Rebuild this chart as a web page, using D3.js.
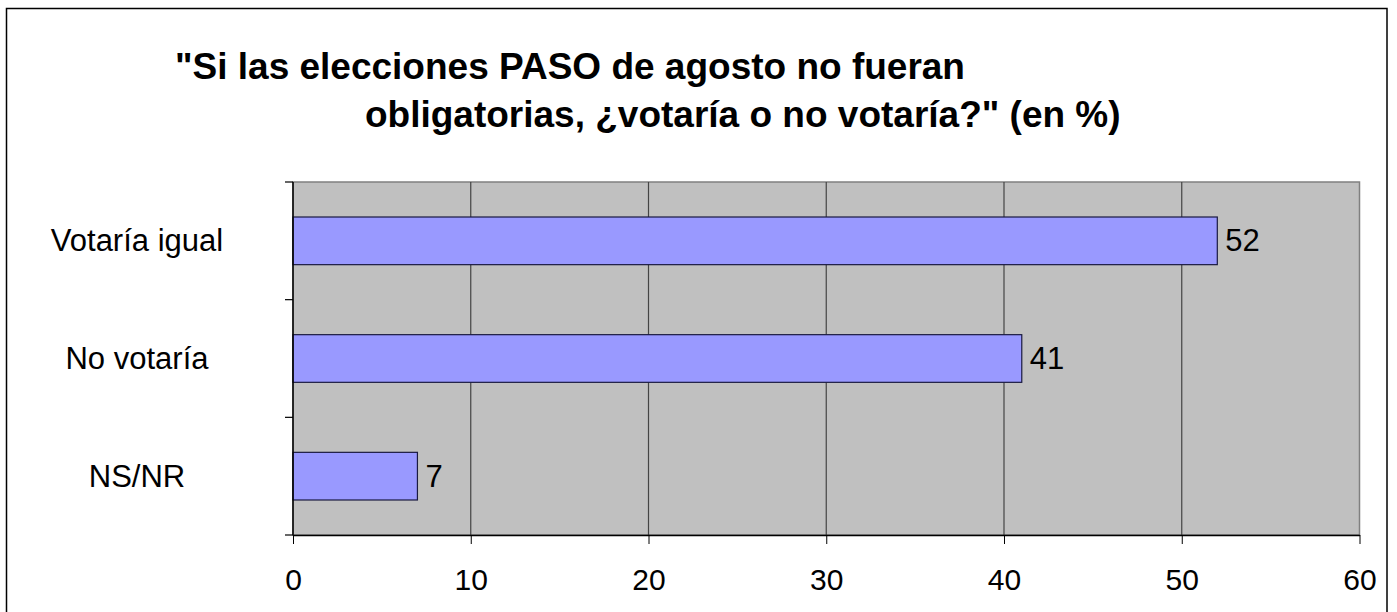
<!DOCTYPE html>
<html lang="es">
<head>
<meta charset="UTF-8">
<title>PASO - votaría o no votaría</title>
<style>
  html, body { margin: 0; background: #fff; }
  text { font-family: "Liberation Sans", Arial, sans-serif; fill: #000; }
</style>
</head>
<body>
<svg id="chart" width="1397" height="612" viewBox="0 0 1397 612"></svg>
<script src="https://d3js.org/d3.v7.min.js"></script>
<script>
// data
const categories = ["Votaría igual", "No votaría", "NS/NR"];
const values = [52, 41, 7];
const xTicks = [0, 10, 20, 30, 40, 50, 60];
const titleLines = ["\"Si las elecciones PASO de agosto no fueran",
                    "obligatorias, ¿votaría o no votaría?\" (en %)"];

const svg = d3.select("#chart");

const plot = {left: 293, right: 1359.5, top: 182, bottom: 535};

const x = d3.scaleLinear().domain([0, 60]).range([plot.left, plot.right]);
const y = d3.scaleBand().domain(categories).range([plot.top, plot.bottom]).padding(0);
const barH = y.bandwidth() * 0.405;

// outer frame
svg.append("rect")
    .attr("x", 6.5).attr("y", 8.5)
    .attr("width", 1380.5).attr("height", 620)
    .attr("fill", "none").attr("stroke", "#000").attr("stroke-width", 1.5);

// title
svg.append("text").attr("x", 175).attr("y", 79)
    .style("font-size", "37px").style("font-weight", "bold")
    .text(titleLines[0]);
svg.append("text").attr("x", 365).attr("y", 127)
    .style("font-size", "37px").style("font-weight", "bold")
    .text(titleLines[1]);

// plot background
svg.append("rect")
    .attr("x", plot.left).attr("y", plot.top)
    .attr("width", plot.right - plot.left).attr("height", plot.bottom - plot.top)
    .attr("fill", "#C0C0C0").attr("stroke", "#808080").attr("stroke-width", 1.5);

// vertical gridlines
svg.append("g").selectAll("line")
    .data(xTicks.slice(1, -1))
    .join("line")
    .attr("x1", d => x(d)).attr("x2", d => x(d))
    .attr("y1", plot.top).attr("y2", plot.bottom)
    .attr("stroke", "#444").attr("stroke-width", 1.2);

// bars
svg.append("g").selectAll("rect")
    .data(values)
    .join("rect")
    .attr("x", x(0))
    .attr("y", (d, i) => y(categories[i]) + (y.bandwidth() - barH) / 2)
    .attr("width", d => x(d) - x(0))
    .attr("height", barH)
    .attr("fill", "#9999FF")
    .attr("stroke", "#1a1a40").attr("stroke-width", 1.2);

// value labels
svg.append("g").selectAll("text")
    .data(values)
    .join("text")
    .attr("x", d => x(d) + 8)
    .attr("y", (d, i) => y(categories[i]) + y.bandwidth() / 2 + 10.5)
    .style("font-size", "31px")
    .text(d => d);

// x axis
const xAxis = svg.append("g")
    .attr("transform", "translate(0," + plot.bottom + ")")
    .call(d3.axisBottom(x).tickValues(xTicks).tickSize(9).tickSizeOuter(0).tickPadding(25));
xAxis.select(".domain").attr("stroke", "#000").attr("stroke-width", 1.5);
xAxis.selectAll(".tick line").attr("stroke", "#000");
xAxis.selectAll(".tick text")
    .style("font-size", "30px")
    .style("font-family", "'Liberation Sans', Arial, sans-serif")
    .attr("fill", "#000");

// y axis: line + ticks at band boundaries
const yEdges = categories.map(c => y(c)).concat([plot.bottom]);
svg.append("line")
    .attr("x1", plot.left).attr("x2", plot.left)
    .attr("y1", plot.top).attr("y2", plot.bottom)
    .attr("stroke", "#000").attr("stroke-width", 1.5);
svg.append("g").selectAll("line")
    .data(yEdges)
    .join("line")
    .attr("x1", plot.left - 8).attr("x2", plot.left)
    .attr("y1", d => d).attr("y2", d => d)
    .attr("stroke", "#000").attr("stroke-width", 1.2);

// category labels
svg.append("g").selectAll("text")
    .data(categories)
    .join("text")
    .attr("x", 137)
    .attr("y", d => y(d) + y.bandwidth() / 2 + 10.5)
    .attr("text-anchor", "middle")
    .style("font-size", "31px")
    .text(d => d);
</script>
</body>
</html>
